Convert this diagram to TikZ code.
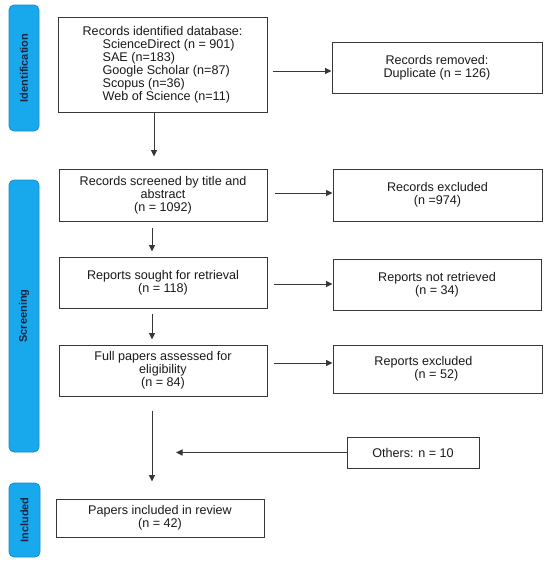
\documentclass[tikz,border=0pt]{standalone}
\usepackage{fontspec}
\setmainfont{Liberation Sans}
\usetikzlibrary{arrows.meta}
\definecolor{barfill}{RGB}{24,168,236}
\definecolor{barline}{RGB}{20,140,205}
\definecolor{barText}{RGB}{25,38,66}
\definecolor{lineC}{RGB}{55,55,55}
\definecolor{txtC}{RGB}{25,25,25}
\begin{document}
\begin{tikzpicture}[x=1pt,y=-1pt,
  box/.style={draw=lineC,line width=1pt,rectangle,inner sep=0pt,align=center,
    font=\fontsize{12.6}{13}\selectfont,text=txtC},
  bar/.style={draw=barline,fill=barfill,line width=0.8pt,rounded corners=5pt,inner sep=0pt,
    minimum width=30pt},
  barlabel/.style={rotate=90,font=\fontsize{11}{12}\selectfont\bfseries,text=barText},
  arr/.style={draw=lineC,line width=1pt,-{Triangle[length=6.5pt,width=6pt]}}]
\useasboundingbox (0,0) rectangle (550,563);
% side bars
\node[bar,minimum height=126pt] (sb1) at (24,68) {};
\node[barlabel] (sl1) at (sb1) {Identification};
\node[bar,minimum height=272pt] (sb2) at (24,316) {};
\node[barlabel] (sl2) at (sb2) {Screening};
\node[bar,minimum width=31pt,minimum height=74pt] (sb3) at (24.5,520) {};
\node[barlabel] (sl3) at (sb3) {Included};
% left column
\node[box,minimum width=209pt,minimum height=95pt,align=left] (b1) at (162.5,64.5)
  {Records identified database:\\
   \hspace*{20pt}ScienceDirect (n = 901)\\
   \hspace*{20pt}SAE (n=183)\\
   \hspace*{20pt}Google Scholar (n=87)\\
   \hspace*{20pt}Scopus (n=36)\\
   \hspace*{20pt}Web of Science (n=11)};
\node[box,minimum width=208pt,minimum height=52pt] (b2) at (163,195)
  {Records screened by title and\\abstract\\(n = 1092)};
\node[box,minimum width=208pt,minimum height=51pt] (b3) at (163,282.5)
  {Reports sought for retrieval\\(n = 118)};
\node[box,minimum width=208pt,minimum height=51pt] (b4) at (163,370.5)
  {Full papers assessed for\\eligibility\\(n = 84)};
\node[box,minimum width=208pt,minimum height=38pt] (b5) at (160,518)
  {Papers included in review\\(n = 42)};
% right column
\node[box,minimum width=210pt,minimum height=51pt] (r1) at (437,67.5)
  {Records removed:\\Duplicate (n = 126)};
\node[box,minimum width=209pt,minimum height=52pt] (r2) at (437.5,195)
  {Records excluded\\(n =974)};
\node[box,minimum width=208pt,minimum height=51pt] (r3) at (437,284.5)
  {Reports not retrieved\\(n = 34)};
\node[box,minimum width=209pt,minimum height=48pt,align=left] (r4) at (437.5,369)
  {Reports excluded\hspace*{28pt}\\\hspace*{40pt}(n = 52)};
\node[box,minimum width=132pt,minimum height=31pt] (ot) at (413,452.5)
  {Others: n = 10};
% vertical arrows
\coordinate (v1) at (154,0);
\coordinate (v2) at (152,0);
\draw[arr,shorten >=12pt] (b1.south -| v1) -- (b2.north -| v1);
\draw[arr,shorten <=6pt,shorten >=5pt] (b2.south -| v2) -- (b3.north -| v2);
\draw[arr,shorten <=5pt,shorten >=5pt] (b3.south -| v2) -- (b4.north -| v2);
\draw[arr,shorten <=14pt,shorten >=17pt] (b4.south -| v2) -- (b5.north -| v2);
% horizontal arrows
\coordinate (h1) at (0,71);
\coordinate (h2) at (0,193);
\coordinate (h3) at (0,284);
\coordinate (h4) at (0,363);
\draw[arr,shorten <=5pt] (b1.east |- h1) -- (r1.west |- h1);
\draw[arr,shorten <=7pt] (b2.east |- h2) -- (r2.west |- h2);
\draw[arr,shorten <=6pt] (b3.east |- h3) -- (r3.west |- h3);
\draw[arr,shorten <=6pt] (b4.east |- h4) -- (r4.west |- h4);
\coordinate (oe) at (176,452.5);
\draw[arr] (ot.west) -- (oe);
\end{tikzpicture}
\end{document}
